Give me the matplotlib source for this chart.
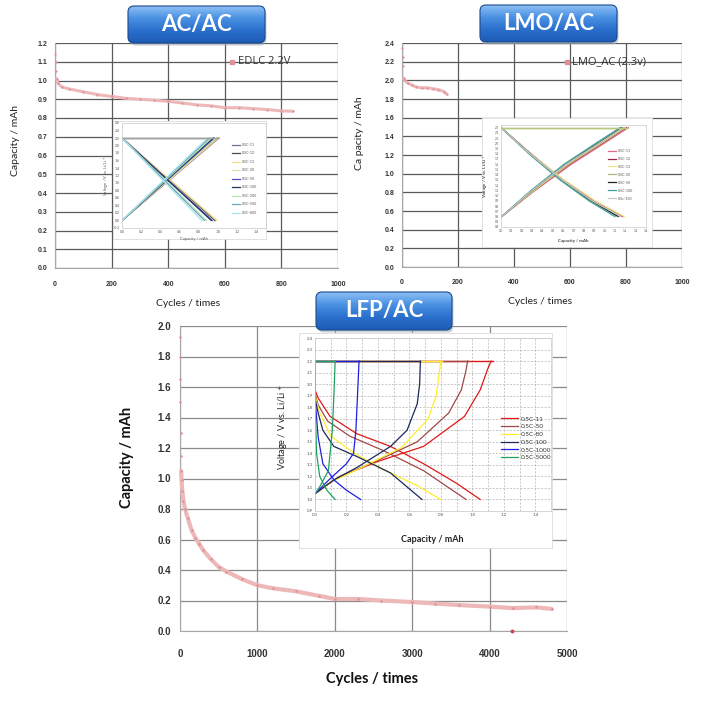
import numpy as np
import matplotlib
matplotlib.use('Agg')
import matplotlib.pyplot as plt
from matplotlib.patches import FancyBboxPatch
from matplotlib.colors import LinearSegmentedColormap
from matplotlib.ticker import FormatStrFormatter
from matplotlib.lines import Line2D

plt.rcParams['font.family'] = ['Lato', 'DejaVu Sans']

# ---------------- data ----------------
# AC/AC cycling
ac_cycles = [0, 2, 4, 6, 10, 25, 50, 100, 150, 200, 250, 300, 350, 400, 450,
             500, 550, 600, 650, 700, 750, 800, 840]
ac_cap = [1.14, 1.10, 1.05, 1.01, 0.985, 0.965, 0.955, 0.94, 0.925, 0.915,
          0.905, 0.90, 0.895, 0.889, 0.88, 0.87, 0.865, 0.855, 0.855, 0.85,
          0.845, 0.838, 0.836]

# LMO/AC cycling
lmo_cycles = [0, 2, 4, 6, 10, 20, 35, 50, 70, 90, 110, 130, 150, 160]
lmo_cap = [2.35, 2.25, 2.15, 2.02, 2.0, 1.97, 1.95, 1.93, 1.92, 1.92, 1.91,
           1.90, 1.88, 1.85]

# LFP/AC cycling
lfp_cycles = [0, 2, 4, 6, 8, 10, 15, 20, 30, 45, 65, 100, 150, 200, 250, 300,
              400, 500, 600, 800, 1000, 1200, 1500, 1800, 2000, 2300, 2600,
              3000, 3300, 3600, 4000, 4300, 4600, 4800]
lfp_cap = [1.93, 1.8, 1.65, 1.5, 1.3, 1.15, 1.05, 0.99, 0.92, 0.85, 0.8, 0.74,
           0.66, 0.61, 0.57, 0.53, 0.47, 0.42, 0.39, 0.34, 0.30, 0.28, 0.26,
           0.23, 0.21, 0.21, 0.20, 0.19, 0.18, 0.17, 0.16, 0.15, 0.155, 0.145]
lfp_outlier = ([4290], [0.0])

# AC/AC inset: linear charge / discharge, end capacities
ac_in_labels = ['0.5C-11', '0.5C-12', '0.5C-13', '0.5C-20', '0.5C-50',
                '0.5C-100', '0.5C-200', '0.5C-500', '0.5C-800']
ac_in_colors = ['#7a6a96', '#4a4a4a', '#f2dc8c', '#d6e2a8', '#5050d0',
                '#24345e', '#b8e2b0', '#6aa8bc', '#a8e4ee']
ac_in_qc = [1.01, 0.99, 1.00, 0.98, 0.96, 0.95, 0.93, 0.91, 0.89]
ac_in_qd = [0.97, 0.96, 0.99, 0.95, 0.94, 0.93, 0.88, 0.86, 0.83]
ac_in_vmax = 2.2
ac_in_vmin = 0.0

# LMO/AC inset
lmo_in_labels = ['0.5C-11', '0.5C-12', '0.5C-13', '0.5C-20', '0.5C-50',
                 '0.5C-100', '0.5c-150']
lmo_in_colors = ['#e06a84', '#9a2848', '#f2e48a', '#a8b878', '#202020',
                 '#3aa098', '#c8c8c8']
lmo_v_ch = [0.59, 1.1, 1.6, 1.98, 2.3]
lmo_q_ch = [[0, 0.33, 0.68, 0.98, 1.23],
            [0, 0.32, 0.66, 0.96, 1.21],
            [0, 0.32, 0.65, 0.95, 1.20],
            [0, 0.31, 0.64, 0.94, 1.19],
            [0, 0.30, 0.62, 0.92, 1.17],
            [0, 0.29, 0.61, 0.90, 1.15],
            [0, 0.30, 0.63, 0.93, 1.18]]
lmo_v_dis = [2.3, 1.78, 1.3, 0.9, 0.6]
lmo_q_dis = [[0, 0.30, 0.60, 0.90, 1.18],
             [0, 0.30, 0.60, 0.89, 1.17],
             [0, 0.30, 0.61, 0.91, 1.19],
             [0, 0.29, 0.59, 0.88, 1.15],
             [0, 0.29, 0.58, 0.87, 1.13],
             [0, 0.28, 0.57, 0.85, 1.10],
             [0, 0.29, 0.59, 0.88, 1.16]]

# LFP/AC inset
lfp_in_labels = ['0.5C-11', '0.5C-50', '0.5C-80', '0.5C-100', '0.5C-1000',
                 '0.5C-5000']
lfp_in_colors = ['#e01818', '#a04848', '#ffee30', '#1c2a5c', '#2020e0',
                 '#20a060']
lfp_q_ch = [[0, 0.08, 0.16, 0.40, 0.69, 0.95, 1.05, 1.10, 1.12],
            [0, 0.08, 0.16, 0.40, 0.65, 0.85, 0.93, 0.96, 0.97],
            [0, 0.10, 0.30, 0.55, 0.72, 0.77, 0.79, 0.80],
            [0, 0.12, 0.27, 0.48, 0.585, 0.65, 0.665, 0.67],
            [0, 0.096, 0.20, 0.245, 0.26, 0.27, 0.28],
            [0, 0.03, 0.085, 0.11, 0.12, 0.128]]
lfp_v_ch = [[1.05, 1.13, 1.20, 1.33, 1.46, 1.72, 1.95, 2.14, 2.2],
            [1.05, 1.13, 1.20, 1.34, 1.50, 1.75, 1.95, 2.12, 2.2],
            [1.05, 1.15, 1.28, 1.45, 1.70, 1.90, 2.10, 2.2],
            [1.05, 1.17, 1.28, 1.46, 1.60, 1.83, 2.00, 2.2],
            [1.05, 1.18, 1.31, 1.40, 1.60, 1.90, 2.2],
            [1.05, 1.11, 1.25, 1.60, 1.90, 2.2]]
lfp_q_dis = [[0, 0, 0.02, 0.096, 0.266, 0.48, 0.69, 0.90, 1.05],
             [0, 0, 0.02, 0.08, 0.22, 0.44, 0.69, 0.96],
             [0, 0, 0.03, 0.10, 0.25, 0.45, 0.65, 0.80],
             [0, 0, 0.02, 0.05, 0.12, 0.27, 0.48, 0.68],
             [0, 0, 0.02, 0.05, 0.12, 0.20, 0.29],
             [0, 0, 0.01, 0.03, 0.075, 0.128]]
lfp_v_dis = [[2.2, 1.95, 1.88, 1.72, 1.57, 1.46, 1.31, 1.14, 1.0],
             [2.2, 1.92, 1.82, 1.68, 1.55, 1.42, 1.25, 1.0],
             [2.2, 1.90, 1.75, 1.55, 1.40, 1.25, 1.12, 1.0],
             [2.2, 1.88, 1.75, 1.60, 1.46, 1.37, 1.23, 1.0],
             [2.2, 1.88, 1.54, 1.31, 1.17, 1.08, 1.0],
             [2.2, 1.85, 1.40, 1.20, 1.08, 1.0]]
lfp_q_cv = [1.13, 0.97, 0.81, 0.67, 0.28, 0.13]

# ---------------- layout helpers (pixel boxes) ----------------
W = H = 702
fig = plt.figure(figsize=(7.02, 7.02), dpi=100)
fig.patch.set_facecolor('white')


def rect(x0, y0, x1, y1):
    return [x0 / W, 1 - y1 / H, (x1 - x0) / W, (y1 - y0) / H]


def px(x, y):
    return x / W, 1 - y / H


PINK = '#ecb8b8'
PINK_DOT = '#e08e98'


def main_axes(box, xlim, ylim, xticks, yticks, fs, padx, pady, gcol):
    ax = fig.add_axes(rect(*box))
    ax.set_xlim(*xlim)
    ax.set_ylim(*ylim)
    ax.set_xticks(xticks)
    ax.set_yticks(yticks)
    ax.yaxis.set_major_formatter(FormatStrFormatter('%.1f'))
    ax.grid(True, color=gcol, lw=0.9)
    ax.set_axisbelow(True)
    for s in ['top', 'right']:
        ax.spines[s].set_visible(False)
    for s in ['left', 'bottom']:
        ax.spines[s].set_color('#a8a8a8')
    ax.tick_params(axis='x', length=0, labelsize=fs, colors='#333333', pad=padx)
    ax.tick_params(axis='y', length=0, labelsize=fs, colors='#333333', pad=pady)
    for t in ax.get_xticklabels() + ax.get_yticklabels():
        t.set_fontweight('bold')
        t.set_family(['Liberation Sans', 'DejaVu Sans'])
    return ax


def cycle_series(ax, x, y, n_sparse, lw, ms):
    # first few points are isolated dots, the rest a dense run of markers
    ax.plot(x[n_sparse - 1:], y[n_sparse - 1:], color=PINK, lw=lw,
            solid_capstyle='round', clip_on=False, zorder=3)
    ax.plot(x, y, ls='none', marker='o', ms=ms, mfc=PINK_DOT, mec='none',
            clip_on=False, zorder=4)


def legend_dot(x, y):
    fig.add_artist(Line2D([x / W], [1 - y / H], marker='s', ms=2.2,
                          color=PINK_DOT, ls='none',
                          transform=fig.transFigure))


def title_box(box, text, fs):
    x0, y0, x1, y1 = box
    m = 4
    ax = fig.add_axes(rect(x0 - m, y0 - m, x1 + m, y1 + m))
    ax.set_zorder(10)
    w, h = x1 - x0, y1 - y0
    ax.set_xlim(0, w + 2 * m)
    ax.set_ylim(0, h + 2 * m)
    ax.axis('off')
    shadow = FancyBboxPatch((m + 1.5, m - 2.5), w, h,
                            boxstyle='round,pad=0,rounding_size=6',
                            fc='#a8b0bc', ec='none', alpha=0.6, zorder=0)
    ax.add_patch(shadow)
    cmap = LinearSegmentedColormap.from_list(
        'b', ['#8cc0f4', '#4a90e2', '#2a6fcc', '#1d5cb4'])
    grad = np.linspace(0, 1, 64).reshape(-1, 1)
    im = ax.imshow(grad, extent=[m, m + w, m, m + h], aspect='auto',
                   cmap=cmap, origin='upper', zorder=1)
    box_p = FancyBboxPatch((m, m), w, h,
                           boxstyle='round,pad=0,rounding_size=6',
                           fc='none', ec='#1b4a8c', lw=0.8, zorder=2)
    ax.add_patch(box_p)
    im.set_clip_path(box_p)
    ax.text(m + w / 2, m + h / 2, text, color='white', fontsize=fs,
            fontweight='bold', ha='center', va='center', zorder=3)


def inset(bg_box, plot_box, xlim, ylim, xticks, yticks, fs, z=3):
    bg = fig.add_axes(rect(*bg_box))
    bg.set_zorder(z)
    bg.set_xticks([])
    bg.set_yticks([])
    for s in bg.spines.values():
        s.set_color('#dcdcdc')
        s.set_linewidth(0.6)
    ax = fig.add_axes(rect(*plot_box))
    ax.set_zorder(z + 1)
    ax.set_xlim(*xlim)
    ax.set_ylim(*ylim)
    ax.set_xticks(xticks)
    ax.set_yticks(yticks)
    ax.xaxis.set_major_formatter(FormatStrFormatter('%.1f'))
    ax.yaxis.set_major_formatter(FormatStrFormatter('%.1f'))
    ax.tick_params(length=0, labelsize=fs, colors='#555555', pad=1.5)
    for s in ax.spines.values():
        s.set_color('#c8c8c8')
        s.set_linewidth(0.5)
    return ax


# ---------------- AC/AC ----------------
ax1 = main_axes((55, 43, 338, 268), (0, 1000), (0, 1.2),
                np.arange(0, 1001, 200), np.arange(0, 1.21, 0.1),
                5, 9, 5.5, '#5a5a5a')
cycle_series(ax1, ac_cycles, ac_cap, 4, 2.2, 1.6)
fig.text(*px(188, 303), 'Cycles / times', fontsize=7.5, ha='center',
         va='center', color='#222222')
fig.text(*px(15, 140), 'Capacity / mAh', fontsize=7.5, ha='center',
         va='center', rotation=90, color='#222222')
legend_dot(232, 62)
fig.text(*px(238, 62), 'EDLC 2.2V', fontsize=8, color='#333333',
         ha='left', va='center', family=['Open Sans', 'DejaVu Sans'])

axi1 = inset((113, 121, 266, 239), (122, 123, 266, 228), (0, 1.5),
             (-0.2, 2.6), np.arange(0, 1.41, 0.2), np.arange(-0.2, 2.61, 0.2),
             2.5)
for qc, qd, c, lab in zip(ac_in_qc, ac_in_qd, ac_in_colors, ac_in_labels):
    axi1.plot([0, qc], [ac_in_vmin, ac_in_vmax], color=c, lw=0.9, label=lab)
    axi1.plot([0, qd], [ac_in_vmax, ac_in_vmin], color=c, lw=0.9)
    axi1.plot([0, qc], [ac_in_vmax, ac_in_vmax], color='#a0a0a0', lw=0.8)
axi1.legend(loc='upper left', bbox_to_anchor=px(230, 141),
            bbox_transform=fig.transFigure, frameon=False, fontsize=2.6,
            handlelength=2.2, labelspacing=1.25, borderpad=0,
            handletextpad=0.5, labelcolor='#555555')
axi1.set_xlabel('Capacity / mAh', fontsize=3, color='#555555', labelpad=2)
axi1.set_ylabel('Voltage / V vs. Li/Li$^+$', fontsize=3, color='#555555',
                labelpad=2)

# ---------------- LMO/AC ----------------
ax2 = main_axes((402, 43, 682, 267), (0, 1000), (0, 2.4),
                np.arange(0, 1001, 200), np.arange(0, 2.41, 0.2),
                5, 9, 5.5, '#5a5a5a')
cycle_series(ax2, lmo_cycles, lmo_cap, 4, 2.2, 1.6)
fig.text(*px(540, 302), 'Cycles / times', fontsize=7.5, ha='center',
         va='center', color='#222222')
fig.text(*px(360, 133), 'Ca pacity / mAh', fontsize=7.5, ha='center',
         va='center', rotation=90, color='#222222')
legend_dot(567, 62)
fig.text(*px(572, 62), 'LMO_AC (2.3v)', fontsize=8, color='#333333',
         ha='left', va='center', family=['Open Sans', 'DejaVu Sans'])

axi2 = inset((482, 118, 652, 247), (501, 125, 646, 227), (0, 1.4),
             (0.4, 2.35), np.arange(0, 1.41, 0.1), np.arange(0.4, 2.35, 0.1),
             2.2)
for qc, qd, c, lab in zip(lmo_q_ch, lmo_q_dis, lmo_in_colors, lmo_in_labels):
    axi2.plot(qc, lmo_v_ch, color=c, lw=0.9, label=lab)
    axi2.plot(qd, lmo_v_dis, color=c, lw=0.9)
    axi2.plot([0, qc[-1]], [lmo_v_ch[-1], lmo_v_ch[-1]], color='#b4c878',
              lw=0.8)
axi2.legend(loc='upper left', bbox_to_anchor=px(606, 147),
            bbox_transform=fig.transFigure, frameon=False, fontsize=2.6,
            handlelength=2.2, labelspacing=1.1, borderpad=0,
            handletextpad=0.5, labelcolor='#555555')
axi2.set_xlabel('Capacity / mAh', fontsize=3.2, color='#444444', labelpad=4,
                fontweight='bold')
axi2.set_ylabel('Voltage / V vs. Li/Li$^+$', fontsize=3.2, color='#444444',
                labelpad=3, fontweight='bold')

# ---------------- LFP/AC ----------------
ax3 = main_axes((180, 326, 567, 631), (0, 5000), (0, 2.0),
                np.arange(0, 5001, 1000), np.arange(0, 2.01, 0.2),
                7, 13, 6.5, '#8a8a8a')
cycle_series(ax3, lfp_cycles, lfp_cap, 7, 3.0, 1.8)
ax3.plot(*lfp_outlier, ls='none', marker='o', ms=1.8, color='#d04050',
         clip_on=False, zorder=4)
fig.text(*px(372, 679), 'Cycles / times', fontsize=10.5, fontweight='bold',
         ha='center', va='center', color='#111111')
fig.text(*px(127, 457), 'Capacity / mAh', fontsize=10.5, fontweight='bold',
         ha='center', va='center', rotation=90, color='#111111')

axi3 = inset((299, 333, 552, 548), (315, 338, 551, 511), (0, 1.5),
             (0.9, 2.4), np.arange(0, 1.41, 0.2), np.arange(0.9, 2.41, 0.1),
             3.2, z=3)
axi3.set_xticks(np.arange(0, 1.51, 0.1), minor=True)
axi3.grid(True, which='both', color='#b4b4b4', lw=0.5, ls=(0, (3, 2)))
axi3.set_axisbelow(True)
axi3.tick_params(which='minor', length=0)
for qc, vc, qd, vd, qcv, c, lab in zip(lfp_q_ch, lfp_v_ch, lfp_q_dis,
                                       lfp_v_dis, lfp_q_cv, lfp_in_colors,
                                       lfp_in_labels):
    axi3.plot([0, qcv], [2.2, 2.2], color=c, lw=1.0)
    axi3.plot(qc, vc, color=c, lw=0.9, label=lab)
    axi3.plot(qd, vd, color=c, lw=0.9)
axi3.legend(loc='upper left', bbox_to_anchor=px(498, 413),
            bbox_transform=fig.transFigure, frameon=False, fontsize=4.6,
            handlelength=2.6, labelspacing=0.35, borderpad=0,
            handletextpad=0.5, labelcolor='#333333')
fig.text(*px(432, 540), 'Capacity / mAh', fontsize=6.5, fontweight='bold',
         ha='center', va='center', color='#222222', zorder=20)
fig.text(*px(283, 427), 'Voltage / V vs. Li/Li$^+$', fontsize=6.5,
         ha='center', va='center', rotation=90, color='#222222', zorder=20)

# ---------------- title boxes ----------------
title_box((128, 6, 265, 43), 'AC/AC', 16)
title_box((480, 5, 617, 42), 'LMO/AC', 16)
title_box((316, 292, 452, 330), 'LFP/AC', 16)

fig.savefig('out.png', dpi=100)
